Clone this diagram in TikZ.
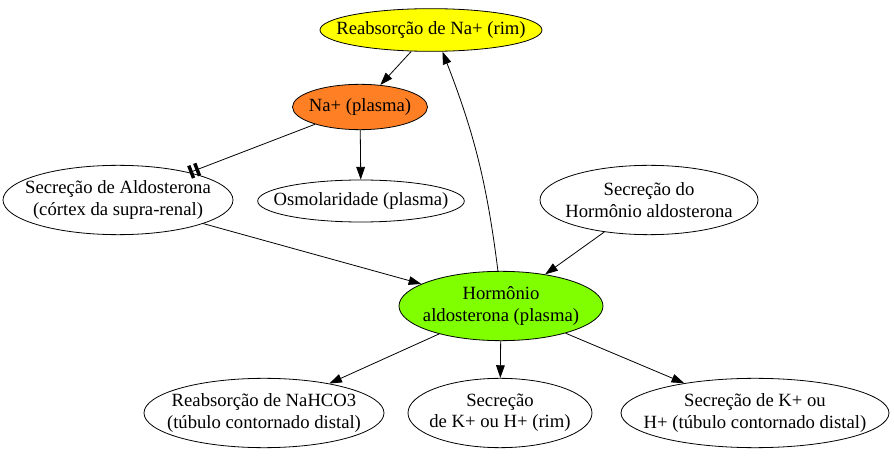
\documentclass[tikz,border=0pt]{standalone}
\usepackage{fontspec}
\setmainfont{Liberation Serif}
\usetikzlibrary{arrows.meta,shapes.geometric}
\definecolor{reabyellow}{HTML}{FFFF00}
\definecolor{naorange}{HTML}{FF7F24}
\definecolor{hormgreen}{HTML}{7FFF00}
\begin{document}
\begin{tikzpicture}[x=0.75pt, y=-0.75pt,
    bubble/.style={draw, ellipse, inner sep=0pt, line width=0.6pt,
        label={[align=center, font=\fontsize{14}{16}\selectfont]center:#1}},
    arr/.style={-{Triangle[length=9.5pt,width=6.5pt]}, line width=0.6pt},
    block/.style={-{Bar[width=10pt,line width=2.6pt,sep=2.2pt]Bar[width=10pt,line width=2.6pt]}, line width=0.6pt}]
    \useasboundingbox (0,0) rectangle (894,456);

    % Top
    \node[bubble={Reabsorção de Na+ (rim)}, fill=reabyellow, minimum width=166.5pt, minimum height=32pt] (reab) at (431,30) {};
    \node[bubble={Na+ (plasma)}, fill=naorange, minimum width=101.25pt, minimum height=34pt] (na) at (360,107) {};

    % Middle row
    \node[bubble={Secreção de Aldosterona\\(córtex da supra-renal)}, minimum width=172.5pt, minimum height=52pt] (aldo) at (118,200) {};
    \node[bubble={Osmolaridade (plasma)}, minimum width=155pt, minimum height=31.5pt] (osm) at (361,201) {};
    \node[bubble={Secreção do\\Hormônio aldosterona}, minimum width=163.5pt, minimum height=52pt] (hsec) at (649,200) {};

    % Hormone
    \node[bubble={Hormônio\\aldosterona (plasma)}, fill=hormgreen, minimum width=153pt, minimum height=52pt] (horm) at (501,306) {};

    % Bottom row
    \node[bubble={Reabsorção de NaHCO3\\(túbulo contornado distal)}, minimum width=180pt, minimum height=52pt] (nahco) at (264,413) {};
    \node[bubble={Secreção\\de K+ ou H+ (rim)}, minimum width=138pt, minimum height=52pt] (kh) at (500,413) {};
    \node[bubble={Secreção de K+ ou\\H+ (túbulo contornado distal)}, minimum width=201pt, minimum height=52pt] (khdist) at (755,413) {};

    % Edges
    \draw[arr] (reab) -- (na);
    \draw[arr] (na) -- (osm);
    \draw[block] (na) -- (aldo);
    \draw[arr] (aldo) -- (horm);
    \draw[arr] (hsec) -- (horm);
    \draw[arr] (horm.95) to[bend right=7] (reab.-62);
    \draw[arr] (horm) -- (nahco);
    \draw[arr] (horm) -- (kh);
    \draw[arr] (horm) -- (khdist);
\end{tikzpicture}
\end{document}
